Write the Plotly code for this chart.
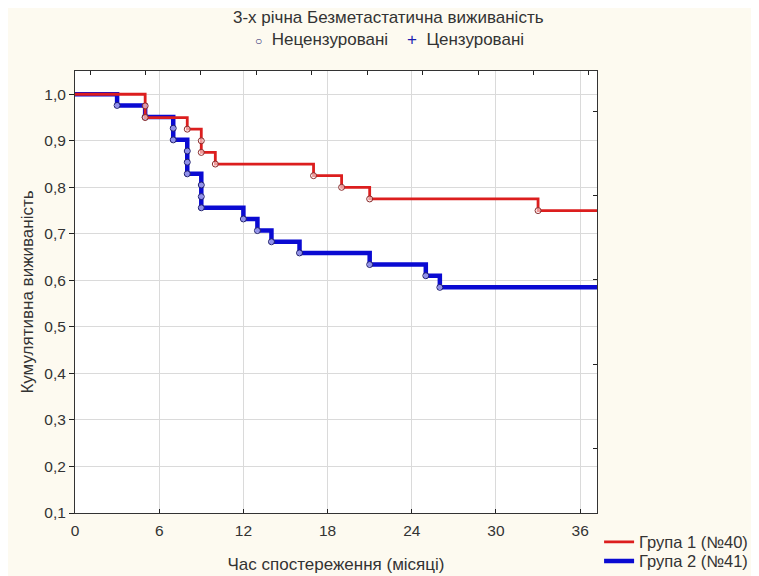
import plotly.graph_objects as go

# ---- data ----
group1_name = "Група 1 (№40)"
group2_name = "Група 2 (№41)"
group1_times = [5, 5, 8, 9, 9, 10, 17, 19, 21, 33]
group1_surv = [0.975, 0.95, 0.925, 0.90, 0.875, 0.85, 0.825, 0.80, 0.775, 0.75]
group2_times = [3, 5, 7, 7, 8, 8, 8, 9, 9, 9, 12, 13, 14, 16, 21, 25, 26]
group2_surv = [0.976, 0.951, 0.927, 0.902, 0.878, 0.854, 0.829, 0.805, 0.780,
               0.756, 0.732, 0.707, 0.683, 0.659, 0.634, 0.610, 0.585]
start_time = 0
start_surv = 1.0
end_time = 37.2

x_tick_vals = [0, 6, 12, 18, 24, 30, 36]
y_tick_vals = [0.1, 0.2, 0.3, 0.4, 0.5, 0.6, 0.7, 0.8, 0.9, 1.0]
y_tick_text = ["0,1", "0,2", "0,3", "0,4", "0,5", "0,6", "0,7", "0,8", "0,9", "1,0"]

title_text = "3-х річна Безметастатична виживаність"
x_title = "Час спостереження (місяці)"
y_title = "Кумулятивна виживаність"

RED = "#dc1e1e"
BLUE = "#0a0ad2"
FONT = "Liberation Sans, Arial, sans-serif"
TXT = "#333333"
FS = 17

fig = go.Figure()


def steps(times, surv):
    xs = [start_time] + list(times) + [end_time]
    ys = [start_surv] + list(surv) + [surv[-1]]
    return xs, ys


x2, y2 = steps(group2_times, group2_surv)
fig.add_trace(go.Scatter(x=x2, y=y2, mode="lines", line=dict(color=BLUE, width=4.5, shape="hv"),
                         name=group2_name, legend="legend2", hoverinfo="skip"))
fig.add_trace(go.Scatter(x=group2_times, y=group2_surv, mode="markers", showlegend=False,
                         marker=dict(symbol="circle", size=6, color="rgba(255,255,255,0.55)",
                                     line=dict(color="#1c1c70", width=1)), hoverinfo="skip"))
x1, y1 = steps(group1_times, group1_surv)
fig.add_trace(go.Scatter(x=x1, y=y1, mode="lines", line=dict(color=RED, width=2.8, shape="hv"),
                         name=group1_name, legend="legend", hoverinfo="skip"))
fig.add_trace(go.Scatter(x=group1_times, y=group1_surv, mode="markers", showlegend=False,
                         marker=dict(symbol="circle", size=6, color="rgba(255,255,255,0.55)",
                                     line=dict(color="#8a2a2a", width=1)), hoverinfo="skip"))
# invisible trace to anchor the mirrored tick axes
fig.add_trace(go.Scatter(x=[None], y=[None], xaxis="x2", yaxis="y2", showlegend=False,
                         hoverinfo="skip"))

legend_common = dict(x=1.004, xanchor="left", yanchor="middle", bgcolor="rgba(0,0,0,0)",
                     font=dict(size=16.5, color=TXT), itemwidth=30)

fig.update_layout(
    width=759, height=576,
    margin=dict(l=67, r=170, t=63, b=71, autoexpand=False),
    paper_bgcolor="#fdfaf0",
    plot_bgcolor="#ffffff",
    font=dict(family=FONT, size=FS, color=TXT),
    showlegend=True,
    legend=dict(y=-0.066, **legend_common),
    legend2=dict(y=-0.109, **legend_common),
    xaxis=dict(range=[0, end_time], tickvals=x_tick_vals, ticks="inside", ticklen=4,
               tickcolor="#222", showline=True, linecolor="#333", linewidth=1, mirror=True,
               showgrid=True, gridcolor="#dadada", gridwidth=1, zeroline=False,
               ticklabelstandoff=3,
               title=dict(text=x_title, standoff=20, font=dict(size=FS)),
               tickfont=dict(size=15.5)),
    yaxis=dict(range=[0.1, 1.05], tickvals=y_tick_vals, ticktext=y_tick_text, ticks="outside",
               ticklen=5, tickcolor="#222", showline=True, linecolor="#333", linewidth=1,
               mirror=True, showgrid=True, gridcolor="#dadada", gridwidth=1, zeroline=False,
               title=dict(text=y_title, standoff=6, font=dict(size=FS)),
               tickfont=dict(size=15.5)),
    xaxis2=dict(overlaying="x", side="top", anchor="y", range=[0, end_time], tick0=1.07, dtick=3.95,
                ticks="inside", ticklen=4, tickcolor="#222", showticklabels=False,
                showgrid=False, zeroline=False, showline=False),
    yaxis2=dict(overlaying="y", side="right", anchor="x", range=[0.1, 1.05], tick0=0.238, dtick=0.1815,
                ticks="inside", ticklen=4, tickcolor="#222", showticklabels=False,
                showgrid=False, zeroline=False, showline=False),
    annotations=[
        dict(text=title_text, xref="paper", yref="paper", x=0.6, y=1.122, showarrow=False,
             xanchor="center", yanchor="middle", font=dict(size=FS, color=TXT)),
        dict(text="<span style='color:#1c1c70;font-size:12px'>○</span>  Нецензуровані    "
                  "<span style='color:#1c1cb0'>+</span>  Цензуровані",
             xref="paper", yref="paper", x=0.603, y=1.072, showarrow=False,
             xanchor="center", yanchor="middle", font=dict(size=FS, color=TXT)),
    ],
)

fig.write_html("out.html")
